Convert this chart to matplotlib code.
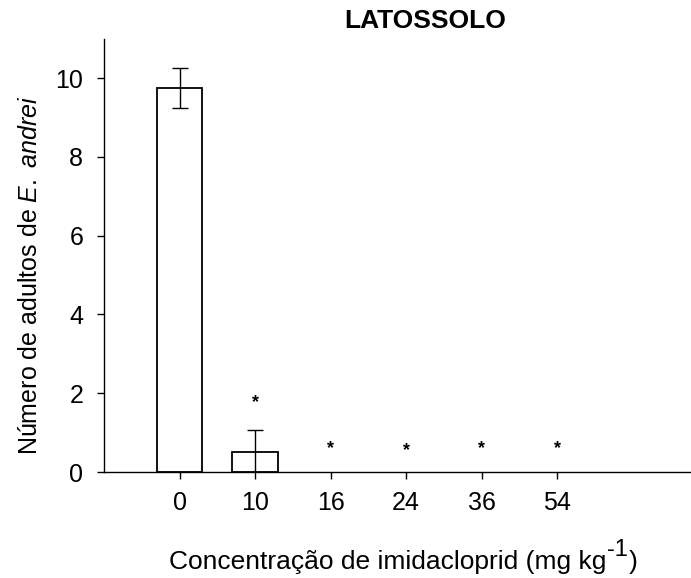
import matplotlib
matplotlib.use("Agg")
import matplotlib.pyplot as plt
import numpy as np

plt.rcParams['font.family'] = ['Liberation Sans', 'DejaVu Sans']
plt.rcParams['mathtext.fontset'] = 'custom'
plt.rcParams['mathtext.rm'] = 'Liberation Sans'
plt.rcParams['mathtext.it'] = 'Liberation Sans:italic'

categories = ['0', '10', '16', '24', '36', '54']
means = [9.75, 0.5, 0, 0, 0, 0]
errors = [0.5, 0.57, 0, 0, 0, 0]
signif = ['', '*', '*', '*', '*', '*']
star_y = [None, 1.75, 0.6, 0.55, 0.6, 0.6]

W, H = 691, 578
fig = plt.figure(figsize=(W/100, H/100), dpi=100)
ax = fig.add_axes([104/W, 1-472/H, 586/W, (472-38.6)/H])

x = np.arange(len(categories))
m = np.array(means)
e = np.array(errors)
nz = m > 0
ax.bar(x[nz], m[nz], width=0.6, color='white', edgecolor='black', linewidth=1.3, zorder=2)
for xi, mi, ei in zip(x, means, errors):
    if ei > 0:
        ax.errorbar(xi, mi, yerr=ei, fmt='none', ecolor='black', elinewidth=1.0,
                    capsize=6, capthick=1.0, zorder=3)
for xi, s, sy in zip(x, signif, star_y):
    if s:
        ax.text(xi, sy, s, ha='center', va='center', fontsize=13, fontweight='bold')

ax.set_xlim(-1.0, 6.76)
ax.set_ylim(0, 11)
ax.set_xticks(x)
ax.set_xticklabels(categories)
ax.set_yticks([0, 2, 4, 6, 8, 10])
ax.tick_params(axis='both', labelsize=18, direction='out', length=5, width=1)
ax.tick_params(axis='x', pad=9)
ax.tick_params(axis='y', pad=10)
ax.spines['top'].set_visible(False)
ax.spines['right'].set_visible(False)
ax.spines['left'].set_linewidth(1)
ax.spines['bottom'].set_linewidth(1)

fig.text(30/W, 1-275/H, 'Número de adultos de $\\it{E.}$ $\\it{andrei}$', fontsize=18,
         rotation=90, ha='center', va='center')

# x label with large superscript built from pieces
renderer = fig.canvas.get_renderer()
base_y = 1-569/H
sup_y = 1-556/H
t1 = fig.text(0, base_y, 'Concentração de imidacloprid (mg kg', fontsize=19, va='baseline', ha='left')
t2 = fig.text(0, sup_y, '-1', fontsize=17, va='baseline', ha='left')
t3 = fig.text(0, base_y, ')', fontsize=19, va='baseline', ha='left')
w1 = t1.get_window_extent(renderer).width
w2 = t2.get_window_extent(renderer).width
w3 = t3.get_window_extent(renderer).width
total = w1 + w2 + w3
x0 = 403 - total/2
t1.set_x(x0/W)
t2.set_x((x0 + w1)/W)
t3.set_x((x0 + w1 + w2 + 1)/W)

fig.text(425/W, 1-21/H, 'LATOSSOLO', ha='center', va='center', fontsize=19, fontweight='bold')

fig.savefig('out.png', dpi=100)
